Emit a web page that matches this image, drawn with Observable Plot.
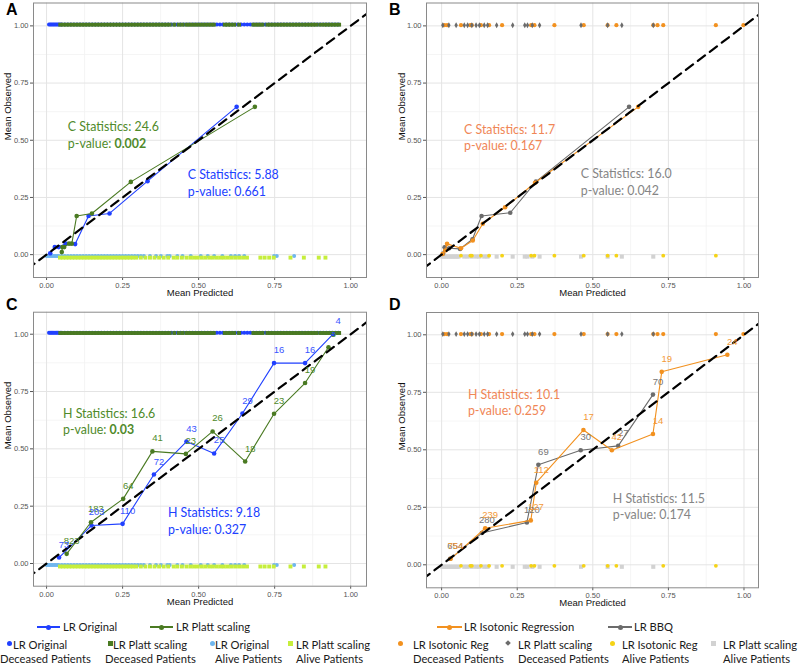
<!DOCTYPE html>
<html><head><meta charset="utf-8">
<script src="https://cdn.jsdelivr.net/npm/d3@7"></script>
<script src="https://cdn.jsdelivr.net/npm/@observablehq/plot@0.6"></script>
<style>
body{margin:0;background:#fff;}
#wrap{position:relative;width:800px;height:668px;overflow:hidden;font-family:Lato,"Open Sans",sans-serif;}
.panel{position:absolute;}
.plab{position:absolute;font:bold 16px "Liberation Sans",Arial,sans-serif;color:#000;line-height:16px;}
.lg{position:absolute;font-size:11.2px;color:#1a1a1a;white-space:nowrap;line-height:14px;}
.key{position:absolute;}
</style></head><body><div id="wrap"></div><script>
// ---------- tick values ----------
const ticks = [0, 0.25, 0.5, 0.75, 1];
const minorTicks = [0.125, 0.375, 0.625, 0.875];

// ---------- patient strips, panels A & C (predicted probabilities) ----------
const lrOrigDeceased = [0.008,0.012,0.016,0.02,0.024,0.028,0.032,0.036,0.04,0.045,0.05,0.06,0.07,0.08,0.09,0.10,0.11,0.12,0.13,0.14,0.15,0.16,0.17,0.18,0.19,0.20,0.21,0.22,0.23,0.24,0.25,0.26,0.27,0.28,0.29,0.30,0.31,0.32,0.33,0.34,0.35,0.36,0.37,0.38,0.39,0.40,0.41,0.42,0.43,0.44,0.45,0.46,0.47,0.48,0.49,0.50,0.51,0.52,0.53,0.54,0.55,0.56,0.57,0.58,0.59,0.60,0.61,0.62,0.63,0.64,0.65,0.66,0.67,0.68,0.69,0.70,0.71,0.72,0.73,0.74,0.75,0.76,0.77,0.78,0.79,0.80,0.81,0.82,0.83,0.84,0.85,0.86,0.87,0.88,0.89,0.90,0.91,0.92,0.93,0.94,0.95,0.96];
const lrPlattDeceased = [0.045,0.055,0.065,0.075,0.085,0.095,0.105,0.115,0.125,0.135,0.145,0.155,0.165,0.175,0.185,0.195,0.205,0.215,0.225,0.235,0.245,0.255,0.265,0.275,0.285,0.295,0.305,0.315,0.325,0.335,0.345,0.355,0.365,0.375,0.385,0.395,0.405,0.42,0.435,0.447,0.46,0.47,0.48,0.49,0.50,0.51,0.52,0.53,0.54,0.55,0.586,0.596,0.606,0.617,0.633,0.68,0.69,0.70,0.71,0.726,0.736,0.746,0.756,0.766,0.776,0.786,0.796,0.806,0.816,0.826,0.836,0.847,0.857,0.867,0.877,0.887,0.90,0.912,0.922,0.932,0.942,0.952,0.962];
const lrOrigAlive = [0.0,0.005,0.01,0.015,0.02,0.025,0.03,0.035,0.04,0.05,0.06,0.07,0.08,0.09,0.10,0.11,0.12,0.13,0.14,0.15,0.16,0.17,0.18,0.19,0.20,0.21,0.22,0.23,0.24,0.25,0.26,0.27,0.28,0.29,0.30,0.31,0.32,0.34,0.36,0.376,0.397,0.405,0.43,0.447,0.474,0.507,0.53,0.551,0.578,0.606,0.62,0.633,0.65,0.748,0.757,0.814];
const lrPlattAlive = [0.044,0.054,0.064,0.074,0.084,0.094,0.104,0.114,0.124,0.134,0.144,0.154,0.164,0.174,0.184,0.194,0.204,0.214,0.224,0.234,0.244,0.254,0.264,0.274,0.284,0.295,0.31,0.325,0.34,0.355,0.37,0.385,0.40,0.418,0.43,0.445,0.46,0.473,0.485,0.497,0.51,0.522,0.535,0.547,0.56,0.572,0.583,0.595,0.607,0.62,0.633,0.646,0.659,0.703,0.717,0.732,0.747,0.802,0.846,0.895,0.917];

// ---------- patient strips, panels B & D ----------
const isoDeceased = [0.009,0.018,0.064,0.095,0.1,0.13,0.157,0.2,0.296,0.307,0.373,0.47,0.549,0.578,0.7,0.714,0.733,0.907,0.998];
const bbqDeceased = [0.004,0.024,0.048,0.075,0.086,0.1,0.114,0.125,0.141,0.152,0.182,0.235,0.275,0.284,0.3,0.324,0.461,0.549,0.596,0.7];
const isoAlive = [0.064,0.095,0.1,0.13,0.157,0.2,0.296,0.307,0.373,0.47,0.549,0.578,0.733,0.907];
const bbqAlive = [0.002,0.008,0.014,0.02,0.026,0.032,0.038,0.044,0.05,0.056,0.075,0.086,0.1,0.114,0.125,0.141,0.152,0.182,0.235,0.275,0.284,0.3,0.324,0.461,0.549,0.596,0.7];

// ---------- calibration curves ----------
const aOrigX = [0.012,0.027,0.04,0.063,0.094,0.138,0.207,0.332,0.625];
const aOrigY = [0.006,0.033,0.033,0.048,0.046,0.169,0.18,0.321,0.646];
const aPlattX = [0.05,0.052,0.058,0.074,0.083,0.099,0.149,0.277,0.685];
const aPlattY = [0.011,0.033,0.033,0.048,0.048,0.169,0.18,0.318,0.646];

const bIsoX = [0.003,0.012,0.018,0.064,0.103,0.136,0.21,0.309,0.65];
const bIsoY = [0.003,0.018,0.047,0.028,0.062,0.135,0.207,0.314,0.646];
const bBbqX = [0.005,0.01,0.025,0.061,0.102,0.132,0.227,0.312,0.62];
const bBbqY = [0.005,0.032,0.028,0.025,0.067,0.169,0.183,0.319,0.646];

const cOrigX = [0.041,0.148,0.25,0.353,0.46,0.551,0.644,0.748,0.85,0.942];
const cOrigY = [0.026,0.166,0.173,0.388,0.532,0.48,0.654,0.874,0.874,1.0];
const cOrigN = [73,203,110,72,43,25,29,16,16,4];
const cPlattX = [0.066,0.146,0.252,0.348,0.458,0.546,0.653,0.748,0.85,0.927];
const cPlattY = [0.042,0.18,0.282,0.489,0.478,0.576,0.445,0.653,0.787,0.943];
const cPlattN = [823,183,64,41,23,26,18,23,19,5];

const dBbqX = [0.028,0.133,0.282,0.32,0.46,0.584,0.699];
const dBbqY = [0.026,0.138,0.184,0.435,0.498,0.517,0.74];
const dBbqN = [654,280,120,69,30,27,70];
const dIsoX = [0.03,0.144,0.295,0.313,0.469,0.563,0.699,0.728,0.945];
const dIsoY = [0.026,0.159,0.193,0.357,0.586,0.498,0.569,0.839,0.913];
const dIsoN = [754,239,127,112,17,42,14,19,24];

// ---------- statistics annotations ----------
const annAPlatt = [{x:0.07,y:0.557,t:"C Statistics: 24.6"},{x:0.07,y:0.482,t:"p-value: 0.002"}];
const annAOrig  = [{x:0.464,y:0.347,t:"C Statistics: 5.88"},{x:0.464,y:0.273,t:"p-value: 0.661"}];
const annBIso   = [{x:0.074,y:0.545,t:"C Statistics: 11.7"},{x:0.074,y:0.475,t:"p-value: 0.167"}];
const annBBbq   = [{x:0.46,y:0.352,t:"C Statistics: 16.0"},{x:0.46,y:0.278,t:"p-value: 0.042"}];
const annCPlatt = [{x:0.054,y:0.654,t:"H Statistics: 16.6"},{x:0.054,y:0.584,t:"p-value: 0.03"}];
const annCOrig  = [{x:0.399,y:0.218,t:"H Statistics: 9.18"},{x:0.399,y:0.148,t:"p-value: 0.327"}];
const annDIso   = [{x:0.087,y:0.737,t:"H Statistics: 10.1"},{x:0.087,y:0.668,t:"p-value: 0.259"}];
const annDBbq   = [{x:0.566,y:0.284,t:"H Statistics: 11.5"},{x:0.566,y:0.215,t:"p-value: 0.174"}];
const boldP = ["0.002","0.03"];

const diag = [-0.3, 1.3];

// ---------- colours ----------
const C = {
  blue:"#2040ff", blueTxt:"#3a55ff", green:"#4a7a22", greenTxt:"#4f8a2a",
  lblue:"#6fb6ee", lgreen:"#c6ee3c", orange:"#f2911f", orangeTxt:"#f39a38", orangeAnn:"#f08656",
  grey:"#6b6b6b", greyTxt:"#757575", greyAnn:"#858585", yellow:"#f5d316", lgrey:"#d2d2d2"
};

const zip = (xs, ys, ns) => xs.map((x,i)=>({x, y:ys[i], n: ns ? ns[i] : null}));

function strip(vals, yv, symbol, r, fill, dy) {
  return Plot.dot(vals, {x:d=>d, y:()=>yv, symbol, r, fill, stroke:"none", dy});
}
function curve(xs, ys, color) {
  const d = zip(xs, ys);
  return [Plot.line(d,{x:"x",y:"y",stroke:color,strokeWidth:1.1}), Plot.dot(d,{x:"x",y:"y",r:2.3,fill:color,stroke:"none"})];
}
function counts(xs, ys, ns, color) {
  return Plot.text(zip(xs, ys, ns), {x:"x",y:"y",text:"n",dx:5,dy:-13,fill:color,fontSize:9.5});
}
function ann(rows, color) {
  return Plot.text(rows, {x:"x",y:"y",text:"t",fill:color,fontSize:12.4,fontFamily:"Lato, 'Open Sans', sans-serif",textAnchor:"start"});
}

function panel(cfg) {
  const svg = Plot.plot({
    width:400, height:cfg.height,
    marginLeft:cfg.ml, marginRight:cfg.mr, marginTop:cfg.mt, marginBottom:cfg.mb,
    x:{domain:cfg.xd}, y:{domain:cfg.yd},
    style:{fontFamily:'"Liberation Sans", Arial, sans-serif', background:"transparent", overflow:"visible"},
    marks:[
      Plot.gridX(minorTicks,{stroke:"#f3f3f3",strokeOpacity:1,strokeWidth:0.8}),
      Plot.gridY(minorTicks,{stroke:"#f3f3f3",strokeOpacity:1,strokeWidth:0.8}),
      Plot.gridX(ticks,{stroke:"#e4e4e4",strokeOpacity:1,strokeWidth:1}),
      Plot.gridY(ticks,{stroke:"#e4e4e4",strokeOpacity:1,strokeWidth:1}),
      Plot.axisX(ticks,{tickFormat:d3.format(".2f"),tickSize:3,tickPadding:2,fontSize:7.5,color:"#555",label:null}),
      Plot.axisY(ticks,{tickFormat:d3.format(".2f"),tickSize:3,tickPadding:2,fontSize:7.5,color:"#555",label:null}),
      ...cfg.strips,
      ...cfg.curves,
      Plot.line(diag,{x:d=>d,y:d=>d,stroke:"#000",strokeWidth:2.2,strokeDasharray:"9,6",clip:true}),
      ...cfg.labels,
      Plot.frame({stroke:"#8a8a8a"}),
      Plot.text(["Mean Predicted"],{text:d=>d,frameAnchor:"bottom",dy:18.5,fontSize:9.5,fill:"#111"}),
      Plot.text(["Mean Observed"],{text:d=>d,frameAnchor:"left",rotate:-90,dx:cfg.ytd,fontSize:9.5,fill:"#111"})
    ]
  });
  d3.select(svg).selectAll("text").each(function(){
    const t = this.textContent;
    for (const b of boldP) {
      if (t === "p-value: " + b) {
        this.textContent = "p-value: ";
        d3.select(this).append("tspan").attr("font-weight","bold").text(b);
      }
    }
  });
  const div = document.createElement("div");
  div.className = "panel";
  div.style.left = cfg.left + "px";
  div.style.top = cfg.top + "px";
  div.appendChild(svg);
  document.getElementById("wrap").appendChild(div);
}

const stripsAC = [
  strip(lrOrigAlive, 0, "circle", 2, C.lblue, 1.4),
  strip(lrPlattAlive, 0, "square", 2.2, C.lgreen, 3),
  strip(lrOrigDeceased, 1, "circle", 2, C.blue, -1.4),
  strip(lrPlattDeceased, 1, "square", 2.2, C.green, -1.2)
];
const stripsBD = [
  strip(bbqAlive, 0, "square", 2.3, C.lgrey, 2),
  strip(isoAlive, 0, "circle", 1.9, C.yellow, 1),
  strip(isoDeceased, 1, "circle", 2.1, C.orange, -0.7),
  strip(bbqDeceased, 1, "diamond", 1.8, C.grey, -0.7)
];

panel({left:0, top:0, height:305, ml:33, mr:34, mt:2.5, mb:28, xd:[-0.043,1.052], yd:[-0.1,1.1], ytd:-26,
  strips:stripsAC,
  curves:[...curve(aOrigX,aOrigY,C.blue), ...curve(aPlattX,aPlattY,C.green)],
  labels:[ann(annAPlatt,C.greenTxt), ann(annAOrig,C.blue)]});
panel({left:400, top:0, height:305, ml:26, mr:42, mt:2.5, mb:28, xd:[-0.05,1.048], yd:[-0.1,1.1], ytd:-25,
  strips:stripsBD,
  curves:[...curve(bBbqX,bBbqY,C.grey), ...curve(bIsoX,bIsoY,C.orange)],
  labels:[ann(annBIso,C.orangeAnn), ann(annBBbq,C.greyAnn)]});
panel({left:0, top:305, height:310, ml:33, mr:34, mt:6.7, mb:29.3, xd:[-0.043,1.052], yd:[-0.099,1.096], ytd:-26,
  strips:stripsAC,
  curves:[...curve(cOrigX,cOrigY,C.blue), ...curve(cPlattX,cPlattY,C.green)],
  labels:[counts(cPlattX,cPlattY,cPlattN,C.greenTxt), counts(cOrigX,cOrigY,cOrigN,C.blueTxt),
          ann(annCPlatt,C.greenTxt), ann(annCOrig,C.blue)]});
panel({left:400, top:305, height:310, ml:26, mr:42, mt:7, mb:27.7, xd:[-0.05,1.048], yd:[-0.1,1.097], ytd:-25,
  strips:stripsBD,
  curves:[...curve(dBbqX,dBbqY,C.grey), ...curve(dIsoX,dIsoY,C.orange)],
  labels:[counts(dBbqX,dBbqY,dBbqN,C.greyTxt), counts(dIsoX,dIsoY,dIsoN,C.orangeTxt),
          ann(annDIso,C.orangeAnn), ann(annDBbq,C.greyAnn)]});

// ---------- panel letters ----------
const wrap = document.getElementById("wrap");
function addDiv(cls, x, y, html, style) {
  const d = document.createElement("div");
  d.className = cls; d.style.left = x + "px"; d.style.top = y + "px";
  if (html != null) d.innerHTML = html;
  if (style) Object.assign(d.style, style);
  wrap.appendChild(d); return d;
}
[["A",6,2],["B",389,2],["C",6,297],["D",389,297]].forEach(([t,x,y])=>addDiv("plab",x,y,t));

// ---------- legends ----------
function lineKey(x1, x2, y, color) {
  addDiv("key", x1, y-0.6, null, {width:(x2-x1)+"px", height:"1.3px", background:color});
  const cx = (x1+x2)/2;
  addDiv("key", cx-2.5, y-2.5, null, {width:"5px", height:"5px", borderRadius:"50%", background:color});
}
function marker(x, y, shape, color) {
  const s = {circle:{width:"5px",height:"5px",borderRadius:"50%"}, square:{width:"5px",height:"5px"},
             diamond:{width:"4px",height:"4px",transform:"rotate(45deg)"}}[shape];
  addDiv("key", x-2.5, y-2.5, null, Object.assign({background:color}, s));
}
const r1 = 627, r2 = 645, r3 = 659;
lineKey(37,60,r1,C.blue);    addDiv("lg",63,r1-7,"LR Original");
lineKey(150,173,r1,C.green); addDiv("lg",176,r1-7,"LR Platt scaling");
lineKey(437,462,r1,C.orange);addDiv("lg",464,r1-7,"LR Isotonic Regression");
lineKey(608,632,r1,C.grey);  addDiv("lg",634,r1-7,"LR BBQ");

const legend2 = [
  [9,"circle",C.blue,13,"LR Original",0,"Deceased Patients"],
  [110,"square",C.green,113,"LR Platt scaling",105,"Deceased Patients"],
  [212,"circle",C.lblue,215,"LR Original",215,"Alive Patients"],
  [290,"square",C.lgreen,296,"LR Platt scaling",296,"Alive Patients"],
  [400,"circle",C.orange,413,"LR Isotonic Reg",413,"Deceased Patients"],
  [508,"diamond",C.grey,518,"LR Platt scaling",518,"Deceased Patients"],
  [612,"circle",C.yellow,622,"LR Isotonic Reg",622,"Alive Patients"],
  [713,"square",C.lgrey,723,"LR Platt scaling",723,"Alive Patients"]
];
legend2.forEach(([mx,shape,col,tx,t1,tx2,t2])=>{
  marker(mx, 643, shape, col);
  addDiv("lg",tx,r2-7,t1);
  addDiv("lg",tx2,r3-7,t2);
});
</script></body></html>
